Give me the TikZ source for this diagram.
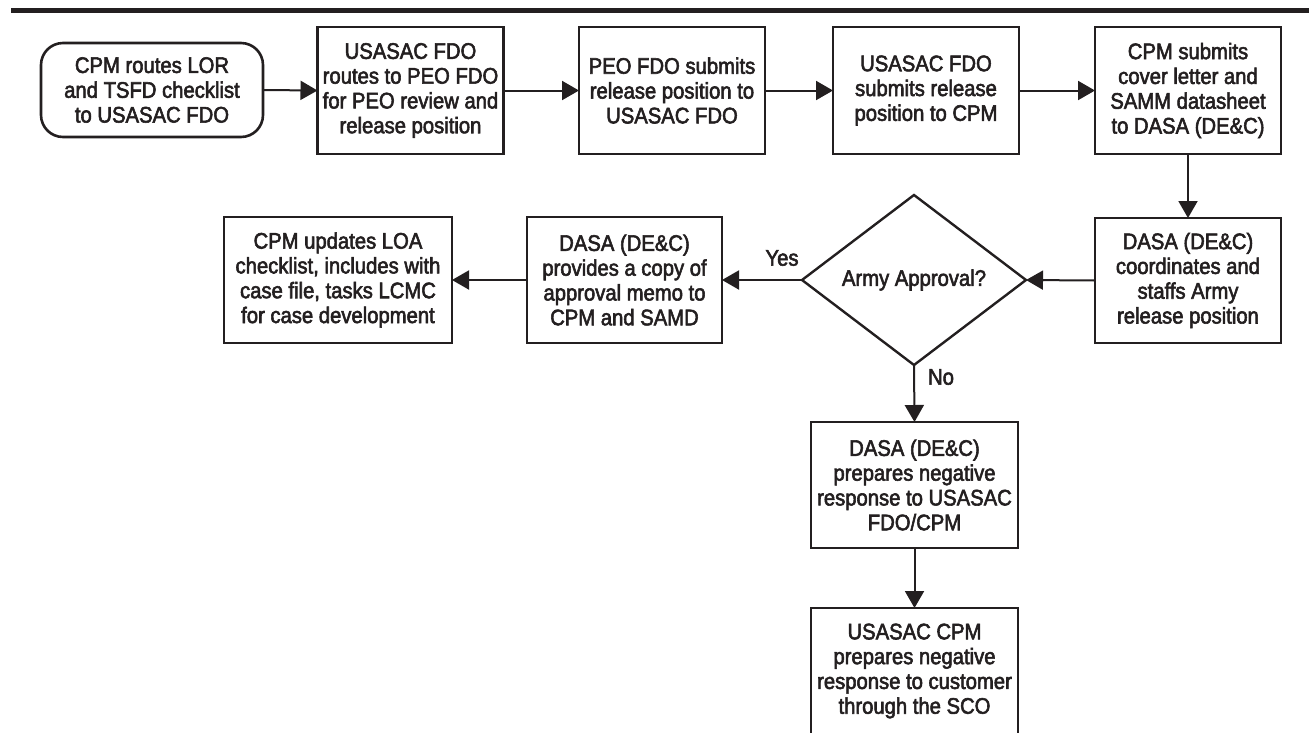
\documentclass[tikz,border=0pt]{standalone}
\usepackage{fontspec}
\setmainfont{Liberation Sans}[FakeStretch=0.9,FakeBold=2.5]
\usetikzlibrary{shapes.geometric,arrows.meta}
\definecolor{ink}{RGB}{35,31,32}
\tikzset{
  txt/.style={font=\fontsize{22.5}{24.8}\selectfont, text=ink, align=center},
  stepbox/.style={txt, draw=ink, line width=2.6pt, rectangle, inner sep=0pt, outer sep=0pt},
  startbox/.style={stepbox, rounded corners=22pt},
  decide/.style={txt, draw=ink, line width=2.4pt, diamond, inner sep=0pt, outer sep=0pt},
  flow/.style={draw=ink, line width=2pt, -{Triangle[length=17pt,width=19pt]}},
}
\begin{document}
\begin{tikzpicture}[x=1pt,y=-1pt]
\useasboundingbox (0,0) rectangle (1309,732);
\fill[ink] (11,8) rectangle (1309,12.5);
% top row
\node[startbox, minimum width=222pt, minimum height=94pt] (b1) at (152,90)
  {CPM routes LOR\\and TSFD checklist\\to USASAC FDO};
\node[stepbox, minimum width=186pt, minimum height=127pt] (b2) at (410.5,90.5)
  {USASAC FDO\\routes to PEO FDO\\for PEO review and\\release position};
\node[stepbox, minimum width=186pt, minimum height=127pt] (b3) at (672,90.5)
  {PEO FDO submits\\release position to\\USASAC FDO};
\node[stepbox, minimum width=186pt, minimum height=127pt] (b4) at (926,90.5)
  {USASAC FDO\\submits release\\position to CPM};
\node[stepbox, minimum width=186pt, minimum height=127pt] (b5) at (1188,90.5)
  {CPM submits\\cover letter and\\SAMM datasheet\\to DASA (DE\&C)};
% second row
\node[stepbox, minimum width=186pt, minimum height=125pt] (b6) at (1188,280.5)
  {DASA (DE\&C)\\coordinates and\\staffs Army\\release position};
\node[decide, minimum width=224pt, minimum height=170pt] (d) at (914,280)
  {Army Approval?};
\node[stepbox, minimum width=195pt, minimum height=126pt] (l2) at (624.5,280)
  {DASA (DE\&C)\\provides a copy of\\approval memo to\\CPM and SAMD};
\node[stepbox, minimum width=228pt, minimum height=126pt] (l1) at (338,280)
  {CPM updates LOA\\checklist, includes with\\case file, tasks LCMC\\for case development};
% negative branch
\node[stepbox, minimum width=207pt, minimum height=126pt] (n1) at (914.5,485)
  {DASA (DE\&C)\\prepares negative\\response to USASAC\\FDO/CPM};
\node[stepbox, minimum width=207pt, minimum height=126pt] (n2) at (914.5,671)
  {USASAC CPM\\prepares negative\\response to customer\\through the SCO};
% labels
\node[txt] (yes) at (782,258) {Yes};
\node[txt] (no) at (941,377) {No};
% connectors
\draw[flow] (b1.east) -- (b2.west);
\draw[flow] (b2.east) -- (b3.west);
\draw[flow] (b3.east) -- (b4.west);
\draw[flow] (b4.east) -- (b5.west);
\draw[flow] (b5.south) -- (b6.north);
\draw[flow] (b6.west) -- (d.east);
\draw[flow] (d.west) -- (l2.east);
\draw[flow] (l2.west) -- (l1.east);
\draw[flow] (d.south) -- (n1.north);
\draw[flow] (n1.south) -- (n2.north);
\end{tikzpicture}
\end{document}
